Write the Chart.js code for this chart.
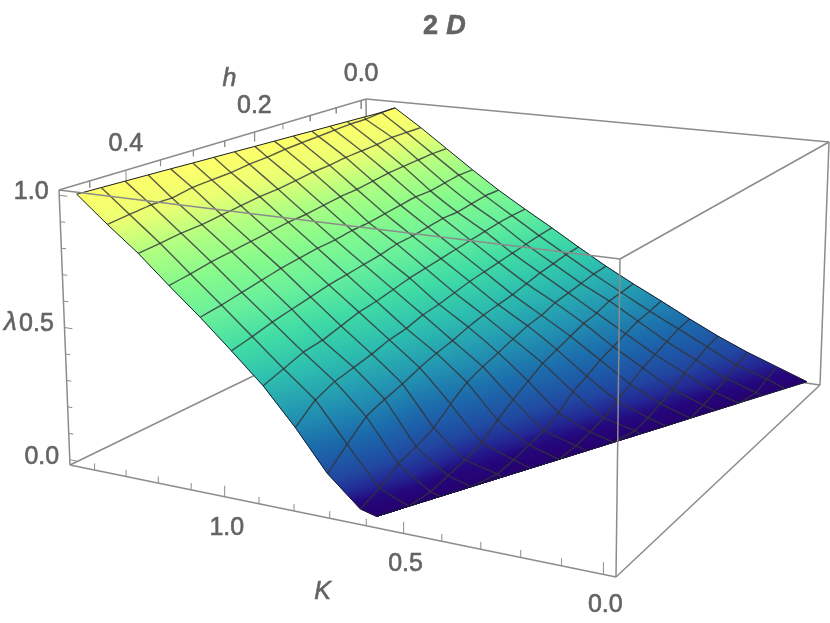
<!DOCTYPE html>
<html>
<head>
<meta charset="utf-8">
<script src="https://cdn.jsdelivr.net/npm/chart.js@4"></script>
<style>
    body { margin: 0; background: #fff; }
    canvas { display: block; }
</style>
</head>
<body>
<canvas id="surface-canvas" width="830" height="623"></canvas>
<script>
// mesh lines of the surface, lambda for every (h, K) crossing
var kValues = [0, 0.0906, 0.181, 0.272, 0.362, 0.453, 0.544, 0.634, 0.725, 0.815, 0.906, 0.997, 1.087, 1.178, 1.268, 1.359, 1.45];
var hValues = [0, 0.03, 0.06, 0.09, 0.12, 0.15, 0.18, 0.21, 0.24, 0.27, 0.30, 0.33, 0.36, 0.39, 0.42, 0.45, 0.48];
// where each h line leaves the plot range (lambda = 0 and lambda = 1)
var kAtZero = [0, 0.037, 0.074, 0.111, 0.148, 0.185, 0.221, 0.258, 0.295, 0.332, 0.369, 0.406, 0.443, 0.48, 0.517, 0.554, 0.59];
var kAtOne = [1.36, 1.356, 1.363, 1.369, 1.375, 1.381, 1.388, 1.394, 1.40, 1.407, 1.413, 1.419, 1.426, 1.432, 1.438, 1.444, 1.45];
var n = null;
var lambdaRows = [
    [0, .045, .09, .142, .2, .262, .322, .385, .455, .527, .597, .67, .75, .835, .92, 1, n],
    [n, .03, .07, .13, .19, .25, .315, .38, .45, .52, .595, .67, .75, .835, .92, n, n],
    [n, .01, .05, .11, .17, .24, .31, .37, .44, .51, .59, .66, .74, .83, .92, .99, n],
    [n, n, .03, .09, .15, .22, .29, .36, .43, .50, .58, .65, .73, .825, .91, .99, n],
    [n, n, .015, .06, .13, .20, .28, .35, .415, .49, .57, .65, .73, .82, .905, .985, n],
    [n, n, n, .04, .10, .18, .26, .33, .40, .48, .56, .64, .72, .81, .90, .98, n],
    [n, n, n, .022, .07, .15, .24, .32, .39, .47, .55, .63, .71, .80, .89, .975, n],
    [n, n, n, .01, .04, .125, .22, .30, .38, .455, .54, .625, .70, .795, .885, .97, n],
    [n, n, n, n, .025, .08, .185, .28, .365, .44, .53, .61, .695, .785, .875, .96, n],
    [n, n, n, n, .012, .05, .15, .26, .345, .43, .515, .60, .685, .775, .865, .955, n],
    [n, n, n, n, n, .035, .11, .235, .33, .41, .50, .59, .68, .77, .86, .945, n],
    [n, n, n, n, n, .02, .065, .19, .31, .40, .49, .58, .67, .76, .85, .94, n],
    [n, n, n, n, n, .01, .04, .14, .285, .38, .47, .565, .66, .75, .84, .935, n],
    [n, n, n, n, n, n, .025, .11, .265, .365, .45, .55, .645, .74, .83, .92, n],
    [n, n, n, n, n, n, .01, .09, .24, .35, .44, .535, .63, .73, .825, .92, n],
    [n, n, n, n, n, n, n, .045, .18, .32, .415, .515, .615, .715, .815, .91, n],
    [n, n, n, n, n, n, n, .015, .117, .26, .39, .498, .603, .703, .807, .9, 1]
];

// axis ticks
var kTicks = [0, 0.1, 0.2, 0.3, 0.4, 0.5, 0.6, 0.7, 0.8, 0.9, 1.0, 1.1, 1.2, 1.3, 1.4];
var kTickLabels = ["0.0", "0.5", "1.0"];
var hTicks = [0, 0.05, 0.1, 0.15, 0.2, 0.25, 0.3, 0.35, 0.4, 0.45];
var hTickLabels = ["0.0", "0.2", "0.4"];
var lambdaTicks = [0, 0.1, 0.2, 0.3, 0.4, 0.5, 0.6, 0.7, 0.8, 0.9, 1.0];
var lambdaTickLabels = ["0.0", "0.5", "1.0"];

// plot box range
var kRange = [-0.03, 1.48];
var hRange = [-0.01, 0.49];
var lambdaRange = [-0.02, 1.02];

var paletteLevels = [0, 0.03, 0.06, 0.1, 0.15, 0.2, 0.3, 0.4, 0.5, 0.6, 0.7, 0.8, 0.9, 1];
var paletteColors = [
    [38, 0, 110], [36, 8, 125], [35, 40, 148], [33, 70, 160], [30, 90, 167], [28, 108, 172], [35, 150, 178], [45, 190, 175],
    [65, 220, 165], [105, 240, 155], [135, 250, 140], [175, 255, 130], [235, 255, 115], [255, 255, 105]
];

// camera: the floor and the lid of the box as seen on screen
var floorMap = squareToQuad([820, 385], [368.5, 320], [70, 465], [616, 577]);
var lidMap = squareToQuad([829, 142], [366, 99], [59, 190], [620, 259]);

function squareToQuad(p00, p10, p11, p01) {
    var dx1 = p10[0] - p11[0], dx2 = p01[0] - p11[0], sx = p00[0] - p10[0] + p11[0] - p01[0];
    var dy1 = p10[1] - p11[1], dy2 = p01[1] - p11[1], sy = p00[1] - p10[1] + p11[1] - p01[1];
    var den = dx1 * dy2 - dx2 * dy1;
    var g = (sx * dy2 - dx2 * sy) / den;
    var h = (dx1 * sy - sx * dy1) / den;
    return function (s, t) {
        var w = g * s + h * t + 1;
        return [
            ((p10[0] - p00[0] + g * p10[0]) * s + (p01[0] - p00[0] + h * p01[0]) * t + p00[0]) / w,
            ((p10[1] - p00[1] + g * p10[1]) * s + (p01[1] - p00[1] + h * p01[1]) * t + p00[1]) / w
        ];
    };
}

function project(K, h, lambda) {
    var s = (K - kRange[0]) / (kRange[1] - kRange[0]);
    var t = (h - hRange[0]) / (hRange[1] - hRange[0]);
    var w = (lambda - lambdaRange[0]) / (lambdaRange[1] - lambdaRange[0]);
    var a = floorMap(s, t);
    var b = lidMap(s, t);
    return { x: a[0] + (b[0] - a[0]) * w, y: a[1] + (b[1] - a[1]) * w };
}

function colorAt(lambda) {
    var v = Math.max(0, Math.min(1, lambda));
    for (var i = 1; i < paletteLevels.length; i++) {
        if (v <= paletteLevels[i]) {
            var f = (v - paletteLevels[i - 1]) / (paletteLevels[i] - paletteLevels[i - 1]);
            var c0 = paletteColors[i - 1], c1 = paletteColors[i];
            return "rgb(" + Math.round(c0[0] + (c1[0] - c0[0]) * f) + "," + Math.round(c0[1] + (c1[1] - c0[1]) * f) + "," + Math.round(c0[2] + (c1[2] - c0[2]) * f) + ")";
        }
    }
    return "rgb(255,255,105)";
}

// node of the mesh; a crossing outside the plot range slides along its h line to the edge
function node(i, j) {
    var v = lambdaRows[j][i];
    if (v !== null) return { K: kValues[i], h: hValues[j], lambda: v };
    if (kValues[i] <= kAtZero[j]) return { K: kAtZero[j], h: hValues[j], lambda: 0 };
    return { K: kAtOne[j], h: hValues[j], lambda: 1 };
}

function nodePoint(nd) {
    return project(nd.K, nd.h, nd.lambda);
}

// gradient of one cell, following how lambda runs across it on screen
function cellGradient(chart, corners) {
    var pts = corners.map(nodePoint);
    var lams = corners.map(function (c) { return c.lambda; });
    var lo = Math.min.apply(null, lams), hi = Math.max.apply(null, lams);
    var d1x = pts[2].x - pts[0].x, d1y = pts[2].y - pts[0].y, l1 = lams[2] - lams[0];
    var d2x = pts[3].x - pts[1].x, d2y = pts[3].y - pts[1].y, l2 = lams[3] - lams[1];
    var det = d1x * d2y - d2x * d1y;
    var flat = colorAt((lo + hi) / 2);
    if (Math.abs(det) < 1 || hi - lo < 0.0001) return flat;
    var gx = (l1 * d2y - l2 * d1y) / det;
    var gy = (d1x * l2 - d2x * l1) / det;
    var gg = gx * gx + gy * gy;
    if (gg < 1e-10) return flat;
    var cx = (pts[0].x + pts[1].x + pts[2].x + pts[3].x) / 4;
    var cy = (pts[0].y + pts[1].y + pts[2].y + pts[3].y) / 4;
    var cl = (lams[0] + lams[1] + lams[2] + lams[3]) / 4;
    var xs = chart.scales.x, ys = chart.scales.y;
    var x0 = xs.getPixelForValue(cx + gx * (lo - cl) / gg), y0 = ys.getPixelForValue(cy + gy * (lo - cl) / gg);
    var x1 = xs.getPixelForValue(cx + gx * (hi - cl) / gg), y1 = ys.getPixelForValue(cy + gy * (hi - cl) / gg);
    if (!isFinite(x0 + y0 + x1 + y1)) return flat;
    var grad = chart.ctx.createLinearGradient(x0, y0, x1, y1);
    grad.addColorStop(0, colorAt(lo));
    paletteLevels.forEach(function (lev) {
        if (lev > lo && lev < hi) grad.addColorStop((lev - lo) / (hi - lo), colorAt(lev));
    });
    grad.addColorStop(1, colorAt(hi));
    return grad;
}

function cellDataset(i, j) {
    var corners = [node(i, j), node(i + 1, j), node(i + 1, j + 1), node(i, j + 1)];
    var paint = function (context) { return cellGradient(context.chart, corners); };
    return {
        data: corners.concat([corners[0]]).map(nodePoint),
        showLine: true,
        fill: "shape",
        backgroundColor: paint,
        borderColor: paint,
        borderWidth: 0.8,
        pointRadius: 0
    };
}

function lineDataset(points, color, width, tension) {
    return {
        data: points,
        showLine: true,
        fill: false,
        borderColor: color,
        borderWidth: width,
        pointRadius: 0,
        tension: tension || 0
    };
}

var boxColor = "rgb(140,140,140)";
var meshColor = "rgba(50,50,55,0.8)";
var edgeColor = "rgb(25,30,50)";

function boxEdge(k0, h0, l0, k1, h1, l1) {
    return lineDataset([project(k0, h0, l0), project(k1, h1, l1)], boxColor, 1.5);
}

var kLo = kRange[0], kHi = kRange[1], hLo = hRange[0], hHi = hRange[1], lLo = lambdaRange[0], lHi = lambdaRange[1];
var layers = [];

// edges behind the surface
layers.push(boxEdge(kHi, hLo, lHi, kLo, hLo, lHi));
layers.push(boxEdge(kLo, hLo, lHi, kLo, hLo, lLo));
layers.push(boxEdge(kLo, hLo, lLo, kHi, hLo, lLo));
layers.push(boxEdge(kHi, hHi, lLo, kHi, hLo, lLo));
layers.push(boxEdge(kHi, hLo, lLo, kHi, hLo, lHi));

// surface cells
for (var j = 0; j < hValues.length - 1; j++) {
    for (var i = 0; i < kValues.length - 1; i++) {
        layers.push(cellDataset(i, j));
    }
}

// h = const mesh lines
function hLine(j) {
    var pts = [];
    for (var i = 0; i < kValues.length; i++) {
        var inRange = lambdaRows[j][i] !== null;
        var nextIn = i < kValues.length - 1 && lambdaRows[j][i + 1] !== null;
        var prevIn = i > 0 && lambdaRows[j][i - 1] !== null;
        if (inRange || nextIn || prevIn) pts.push(nodePoint(node(i, j)));
    }
    return pts;
}
// K = const mesh lines
function kLine(i) {
    var pts = [];
    for (var j = 0; j < hValues.length; j++) {
        var inRange = lambdaRows[j][i] !== null;
        var nextIn = j < hValues.length - 1 && lambdaRows[j + 1][i] !== null;
        var prevIn = j > 0 && lambdaRows[j - 1][i] !== null;
        if (inRange || nextIn || prevIn) pts.push(nodePoint(node(i, j)));
    }
    return pts;
}
for (var a = 1; a < hValues.length - 1; a++) layers.push(lineDataset(hLine(a), meshColor, 1.4, 0.1));
for (var b = 1; b < kValues.length - 1; b++) layers.push(lineDataset(kLine(b), meshColor, 1.4, 0.1));

// outline of the surface
layers.push(lineDataset(hLine(0), edgeColor, 1));
layers.push(lineDataset(hLine(hValues.length - 1), edgeColor, 1));
var loEdge = [], hiEdge = [];
for (var e = 0; e < hValues.length; e++) {
    loEdge.push(project(kAtZero[e], hValues[e], 0));
    hiEdge.push(project(kAtOne[e], hValues[e], 1));
}
layers.push(lineDataset(loEdge, edgeColor, 1));
layers.push(lineDataset(hiEdge, edgeColor, 1));

// edges in front of the surface
layers.push(boxEdge(kHi, hHi, lHi, kLo, hHi, lHi));
layers.push(boxEdge(kHi, hHi, lHi, kHi, hLo, lHi));
layers.push(boxEdge(kHi, hHi, lHi, kHi, hHi, lLo));
layers.push(boxEdge(kHi, hHi, lLo, kLo, hHi, lLo));
layers.push(boxEdge(kLo, hHi, lLo, kLo, hHi, lHi));
layers.push(boxEdge(kLo, hHi, lHi, kLo, hLo, lHi));
layers.push(boxEdge(kLo, hHi, lLo, kLo, hLo, lLo));

// ticks
kTicks.forEach(function (t) {
    var len = kTickLabels.indexOf(t.toFixed(1)) >= 0 ? 0.04 : 0.025;
    layers.push(lineDataset([project(t, hHi, lLo), project(t, hHi, lLo + len)], boxColor, 1));
});
hTicks.forEach(function (t) {
    var len = hTickLabels.indexOf(t.toFixed(2).slice(0, 3)) >= 0 && t * 100 % 10 === 0 ? 0.04 : 0.025;
    layers.push(lineDataset([project(kHi, t, lHi), project(kHi, t, lHi - len)], boxColor, 1));
});
lambdaTicks.forEach(function (t) {
    var len = lambdaTickLabels.indexOf(t.toFixed(1)) >= 0 ? 0.025 : 0.015;
    layers.push(lineDataset([project(kHi, hHi, t), project(kHi - len, hHi, t)], boxColor, 1));
});

var textColor = "rgb(100,100,100)";
var tickFont = "25px 'Liberation Sans'";
var axisFont = "italic 25px 'Liberation Sans'";

var axisText = {
    id: "axisText",
    afterDatasetsDraw: function (chart) {
        var c = chart.ctx, xs = chart.scales.x, ys = chart.scales.y;
        function put(text, pt, dx, dy, font, weight) {
            var px = xs.getPixelForValue(pt.x + dx), py = ys.getPixelForValue(pt.y + dy);
            c.font = font;
            c.lineWidth = weight === undefined ? 0.6 : weight;
            c.fillText(text, px, py);
            c.strokeText(text, px, py);
        }
        c.save();
        c.fillStyle = textColor;
        c.strokeStyle = textColor;
        c.textAlign = "center";
        c.textBaseline = "middle";
        kTickLabels.forEach(function (s) { put(s, project(parseFloat(s), hHi, lLo), 2, 31, tickFont); });
        hTickLabels.forEach(function (s) { put(s, project(kHi, parseFloat(s), lHi), 0, -26, tickFont); });
        lambdaTickLabels.forEach(function (s) { put(s, project(kHi, hHi, parseFloat(s)), -28, -3, tickFont); });
        put("K", project(0.72, hHi, lLo), 0, 75.5, axisFont);
        put("h", project(kHi, 0.25, lHi), 5, -62, axisFont);
        put("\u03bb", project(kHi, hHi, 0.5), -54, -5, "italic 26px 'Liberation Sans'");
        put("2", { x: 430.5, y: 27 }, 0, 0, "bold 27px 'Liberation Sans'", 0);
        put("D", { x: 456, y: 27 }, 0, 0, "italic bold 27px 'Liberation Sans'", 0);
        c.restore();
    }
};

new Chart(document.getElementById("surface-canvas").getContext("2d"), {
    type: "scatter",
    data: { datasets: layers.reverse() },
    options: {
        responsive: false,
        animation: false,
        devicePixelRatio: 1,
        layout: { padding: 0 },
        scales: {
            x: { type: "linear", min: 0, max: 830, display: false },
            y: { type: "linear", min: 0, max: 623, reverse: true, display: false }
        },
        plugins: {
            legend: { display: false },
            tooltip: { enabled: false }
        }
    },
    plugins: [axisText]
});
</script>
</body>
</html>
